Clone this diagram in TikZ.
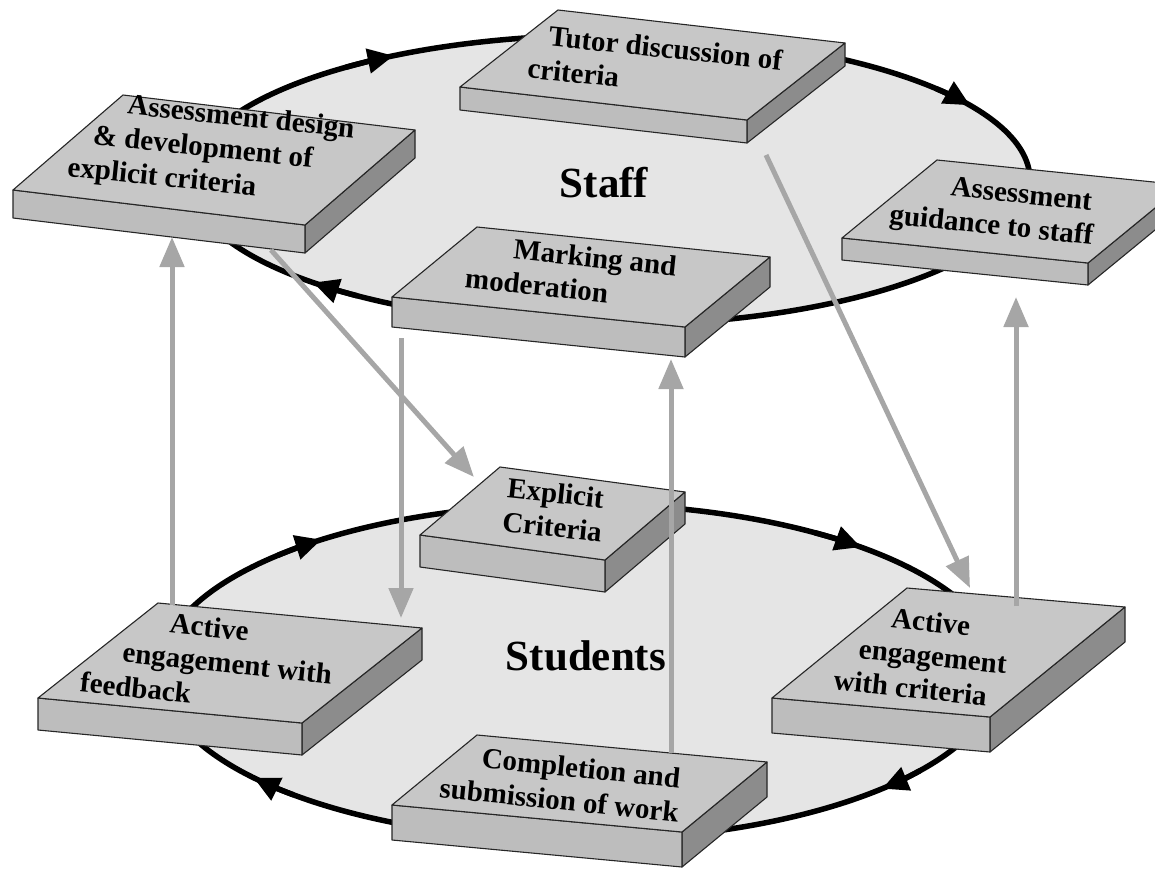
\documentclass[tikz,border=0pt]{standalone}
\usepackage{fontspec}
\setmainfont{Liberation Serif}
\usetikzlibrary{arrows.meta,calc}
\definecolor{ringgrey}{gray}{0.90}
\definecolor{topgrey}{gray}{0.78}
\definecolor{frontgrey}{gray}{0.74}
\definecolor{sidegrey}{gray}{0.55}
\definecolor{linkgrey}{gray}{0.65}

% slab: name, front-left corner, front edge, depth, thickness
\newcommand{\slab}[5]{
  \coordinate (#1-a) at #2;
  \coordinate (#1-b) at ($(#1-a)+#3$);
  \coordinate (#1-c) at ($(#1-b)+#4$);
  \coordinate (#1-d) at ($(#1-a)+#4$);
  \filldraw[slabside] (#1-b) -- (#1-c) -- ++(0,#5) -- ($(#1-b)+(0,#5)$) -- cycle;
  \filldraw[slabfront] (#1-a) -- (#1-b) -- ++(0,#5) -- ($(#1-a)+(0,#5)$) -- cycle;
  \filldraw[slabtop] (#1-a) -- (#1-b) -- (#1-c) -- (#1-d) -- cycle;
}

\begin{document}
\begin{tikzpicture}[x=1pt, y=-1pt,
                      slabtop/.style = {
                        fill=topgrey, draw=black!85,
                        line width=1.1pt, line join=round
                      },
                      slabfront/.style = {
                        fill=frontgrey, draw=black!85,
                        line width=1.1pt, line join=round
                      },
                      slabside/.style = {
                        fill=sidegrey, draw=black!85,
                        line width=1.1pt, line join=round
                      },
                      slabtext/.style = {
                        font=\bfseries\fontsize{29}{34}\selectfont,
                        align=left, rotate=-6, inner sep=0pt
                      },
                      ring/.style = {
                        fill=ringgrey, draw=black, line width=5.5pt
                      },
                      ringtip/.style = {
                        draw=black, line width=5.5pt,
                        -{Triangle[length=26pt,width=24pt]}
                      },
                      link/.style = {
                        draw=linkgrey, line width=5pt,
                        -{Triangle[length=30pt,width=24pt]}
                      },
                      title/.style = {
                        font=\bfseries\fontsize{43}{46}\selectfont
                      }]
    \path[use as bounding box] (0,0) rectangle (1155,870);
    \clip (0,0) rectangle (1155,870);

    \coordinate (staffc) at (610,180);
    \coordinate (studentc) at (580,672);
    \draw[ring] (staffc) ellipse [x radius=420, y radius=145];
    \draw[ring] (studentc) ellipse [x radius=420, y radius=168];

    \foreach \a in {239,329,135}
      \draw[ringtip] (staffc) ++(\a-8:420 and 145)
        arc[start angle=\a-8, end angle=\a, x radius=420, y radius=145];
    \foreach \a in {232,312,44,141}
      \draw[ringtip] (studentc) ++(\a-8:420 and 168)
        arc[start angle=\a-8, end angle=\a, x radius=420, y radius=168];

    \slab{tutor}{(460,87)}{(287,33)}{(98,-77)}{23}
    \slab{design}{(13,190)}{(292,35)}{(110,-95)}{28}
    \slab{guidance}{(842,238)}{(246,25)}{(95,-78)}{22}
    \slab{marking}{(392,297)}{(293,30)}{(85,-70)}{30}
    \slab{explicit}{(420,535)}{(185,25)}{(80,-68)}{32}
    \slab{criteria}{(772,698)}{(218,19)}{(135,-110)}{35}
    \slab{feedback}{(38,698)}{(264,25)}{(120,-95)}{32}
    \slab{completion}{(392,805)}{(290,27)}{(85,-70)}{35}

    \node[title] (staff) at (604,183) {Staff};
    \node[title] (students) at (586,656) {Students};

    \node[slabtext] (design) at (211,150)
      {\hspace{53pt}Assessment design\\\hspace{22pt}\& development of\\explicit criteria};
    \node[slabtext] (tutor) at (655,64)
      {\hspace{18pt}Tutor discussion of\\criteria};
    \node[slabtext] (guidance) at (993,211)
      {\hspace{58pt}Assessment\\guidance to staff};
    \node[slabtext] (marking) at (571,272)
      {\hspace{45pt}Marking and\\moderation};
    \node[slabtext, align=center] (explicit) at (554,510)
      {Explicit\\Criteria};
    \node[slabtext] (feedback) at (208,661)
      {\hspace{83pt}Active\\\hspace{39pt}engagement with\\feedback};
    \node[slabtext] (criteria) at (922,655)
      {\hspace{51pt}Active\\\hspace{22pt}engagement\\with criteria};
    \node[slabtext] (completion) at (561,783)
      {\hspace{39pt}Completion and\\submission of work};

    \coordinate (feedback-out) at (172,605);
    \coordinate (design-in) at (172,237);
    \coordinate (design-out) at (271,250);
    \coordinate (explicit-in) at (474,477);
    \coordinate (marking-out) at (401,338);
    \coordinate (feedback-in) at (401,618);
    \coordinate (completion-out) at (671,753);
    \coordinate (marking-in) at (671,359);
    \coordinate (tutor-out) at (766,155);
    \coordinate (criteria-in) at (970,588);
    \coordinate (criteria-out) at (1016,606);
    \coordinate (guidance-in) at (1016,297);

    \draw[link] (feedback-out) -- (design-in);
    \draw[link] (design-out) -- (explicit-in);
    \draw[link] (marking-out) -- (feedback-in);
    \draw[link] (completion-out) -- (marking-in);
    \draw[link] (tutor-out) -- (criteria-in);
    \draw[link] (criteria-out) -- (guidance-in);
  \end{tikzpicture}
\end{document}
